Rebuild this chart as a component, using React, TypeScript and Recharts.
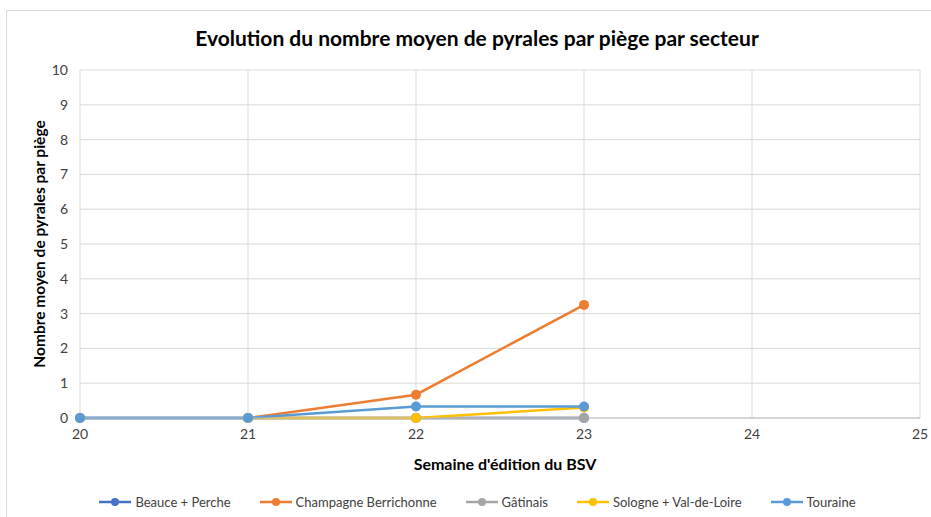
import { LineChart, Line, XAxis, YAxis, CartesianGrid, Legend } from 'recharts';

const weeks = [20, 21, 22, 23];
const beauce = [0, 0, 0, 0];
const champagne = [null, 0, 0.67, 3.25];
const gatinais = [0, 0, 0, 0];
const sologne = [null, 0, 0, 0.3];
const touraine = [0, 0, 0.33, 0.33];

const xTicks = [20, 21, 22, 23, 24, 25];
const yTicks = [0, 1, 2, 3, 4, 5, 6, 7, 8, 9, 10];

const series = [
  { key: 'beauce', name: 'Beauce + Perche', color: '#4472C4', values: beauce },
  { key: 'champagne', name: 'Champagne Berrichonne', color: '#ED7D31', values: champagne },
  { key: 'gatinais', name: 'Gâtinais', color: '#A5A5A5', values: gatinais },
  { key: 'sologne', name: 'Sologne + Val-de-Loire', color: '#FFC000', values: sologne },
  { key: 'touraine', name: 'Touraine', color: '#5B9BD5', values: touraine },
];

const data = weeks.map((w, i) => {
  const row: Record<string, number | null> = { week: w };
  series.forEach(s => {
    row[s.key] = s.values[i];
  });
  return row;
});

const FONT = 'Lato, "Open Sans", sans-serif';

function LegendContent() {
  return (
    <div
      style={{
        height: 39,
        display: 'flex',
        justifyContent: 'center',
        alignItems: 'flex-start',
        paddingTop: 17,
        boxSizing: 'border-box',
        gap: 29,
        fontFamily: FONT,
        fontSize: 13,
        color: '#404040',
        paddingLeft: 30,
      }}
    >
      {series.map(s => (
        <div key={s.key} style={{ display: 'flex', alignItems: 'center', gap: 4 }}>
          <svg width={32} height={10}>
            <line x1={0} y1={5} x2={32} y2={5} stroke={s.color} strokeWidth={2.5} />
            <circle cx={16} cy={5} r={4} fill={s.color} />
          </svg>
          <span style={{ lineHeight: '14px' }}>{s.name}</span>
        </div>
      ))}
    </div>
  );
}

export default function App() {
  return (
    <div
      style={{
        position: 'absolute',
        left: 0,
        top: 0,
        width: 931,
        height: 517,
        overflow: 'hidden',
        background: '#fff',
        fontFamily: FONT,
      }}
    >
      <div
        style={{
          position: 'absolute',
          left: 6,
          top: 10,
          width: 960,
          height: 560,
          border: '1px solid #d9d9d9',
        }}
      />
      <div
        style={{
          position: 'absolute',
          left: 0,
          top: 23,
          width: 954,
          textAlign: 'center',
          fontSize: 21,
          fontWeight: 700,
          color: '#000',
          lineHeight: '30px',
        }}
      >
        Evolution du nombre moyen de pyrales par piège par secteur
      </div>
      <div style={{ position: 'absolute', left: 0, top: 0 }}>
        <LineChart
          width={931}
          height={517}
          data={data}
          margin={{ top: 70, right: 11, bottom: 0, left: 5 }}
        >
          <CartesianGrid stroke="#d9d9d9" strokeWidth={1} />
          <XAxis
            dataKey="week"
            type="number"
            domain={[20, 25]}
            ticks={xTicks}
            height={60}
            tickLine={false}
            tickSize={0}
            tickMargin={11}
            axisLine={{ stroke: '#bfbfbf', strokeWidth: 1 }}
            tick={{ fill: '#404040', fontSize: 14, fontFamily: FONT }}
            label={{
              value: "Semaine d'édition du BSV",
              position: 'insideBottom',
              offset: 8,
              dx: 5,
              fill: '#000',
              fontSize: 16,
              fontWeight: 700,
              fontFamily: FONT,
            }}
          />
          <YAxis
            type="number"
            domain={[0, 10]}
            ticks={yTicks}
            width={75}
            tickLine={false}
            tickSize={0}
            tickMargin={12}
            axisLine={false}
            tick={{ fill: '#404040', fontSize: 14, fontFamily: FONT }}
            label={{
              value: 'Nombre moyen de pyrales par piège',
              angle: -90,
              position: 'center',
              dx: -3,
              fill: '#000',
              fontSize: 15.5,
              fontWeight: 700,
              fontFamily: FONT,
            }}
          />
          <Legend verticalAlign="bottom" content={<LegendContent />} />
          {series.map(s => (
            <Line
              key={s.key}
              dataKey={s.key}
              name={s.name}
              stroke={s.color}
              strokeWidth={2.5}
              dot={{ r: 5, fill: s.color, stroke: s.color, strokeWidth: 0 }}
              activeDot={false}
              isAnimationActive={false}
              connectNulls={false}
            />
          ))}
        </LineChart>
      </div>
    </div>
  );
}
